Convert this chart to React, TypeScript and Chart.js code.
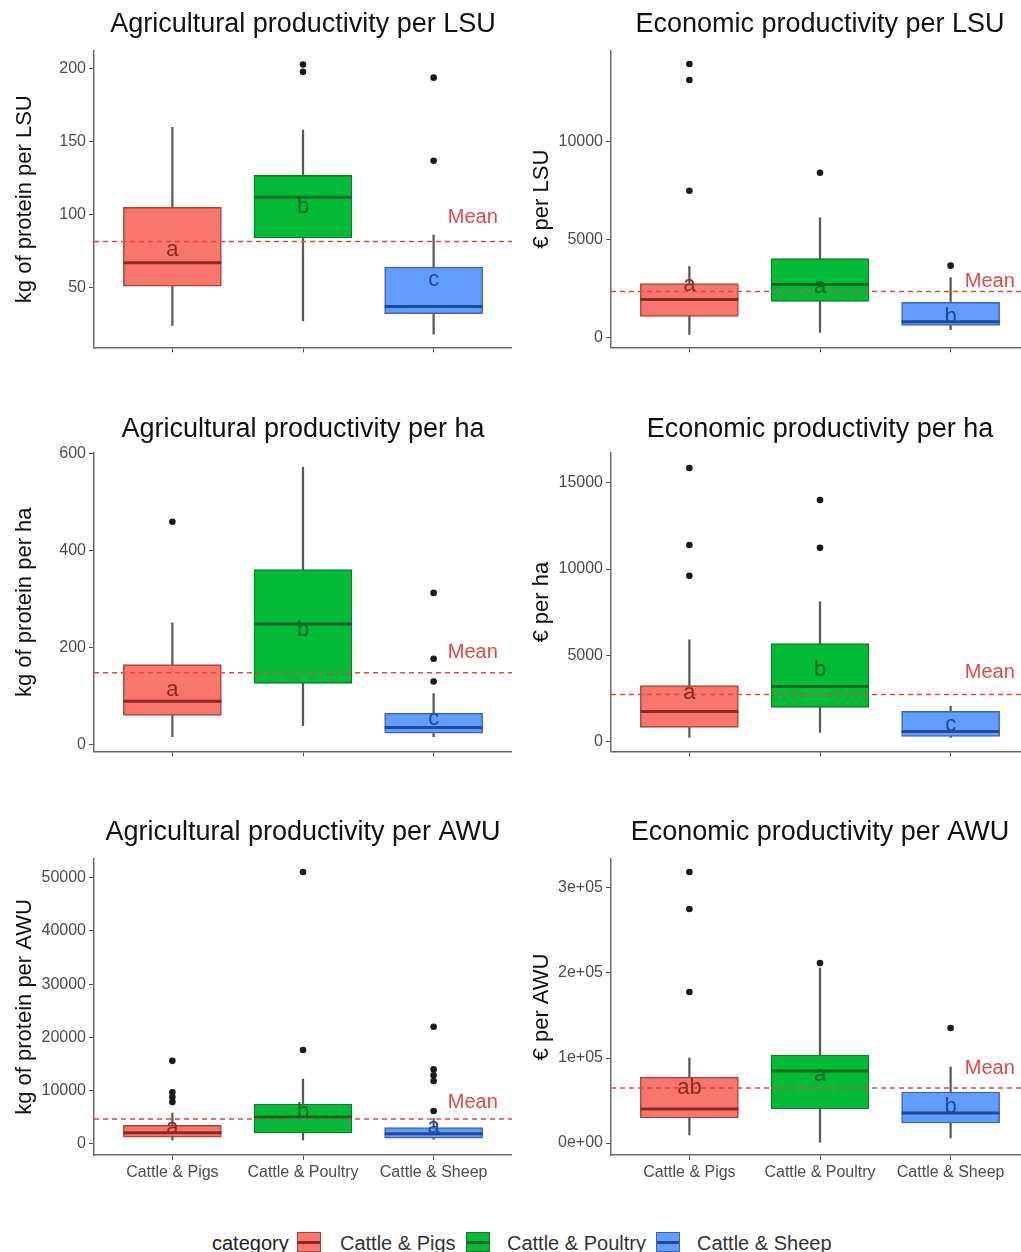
import React, { useEffect, useRef } from 'react';
import { Chart, registerables } from 'chart.js';

Chart.register(...registerables);
const FONT = "'Liberation Sans', Arial, Helvetica, sans-serif";
Chart.defaults.font.family = FONT;

// ---------------- data ----------------
const categories = ['Cattle & Pigs', 'Cattle & Poultry', 'Cattle & Sheep'];
const categoryX = [1, 2, 3];
const meanLabelText = 'Mean';
const meanLabelX = 3.3;

// Agricultural productivity per LSU
const aLsuLow = [24, 27, 18];
const aLsuQ1 = [51, 84, 32];
const aLsuMed = [67, 112, 37];
const aLsuQ3 = [105, 127, 64];
const aLsuHigh = [160, 158, 86];
const aLsuOut = [[], [198, 203], [137, 194]];
const aLsuLetters = ['a', 'b', 'c'];
const aLsuLetterY = [76, 105, 55];
const aLsuMean = 81.5;
const aLsuMeanLabelY = 98;
const aLsuTicks = [50, 100, 150, 200];
const aLsuTickLabels = ['50', '100', '150', '200'];
const aLsuRange = [8.9, 212.3];

// Economic productivity per LSU
const eLsuLow = [150, 250, 400];
const eLsuQ1 = [1070, 1840, 610];
const eLsuMed = [1940, 2700, 800];
const eLsuQ3 = [2750, 4030, 1790];
const eLsuHigh = [3620, 6120, 3060];
const eLsuOut = [[7500, 13160, 13980], [8420], [3670]];
const eLsuLetters = ['a', 'a', 'b'];
const eLsuLetterY = [2700, 2600, 1070];
const eLsuMean = 2350;
const eLsuMeanLabelY = 2860;
const eLsuTicks = [0, 5000, 10000];
const eLsuTickLabels = ['0', '5000', '10000'];
const eLsuRange = [-510, 14643];

// Agricultural productivity per ha
const aHaLow = [16, 39, 16];
const aHaQ1 = [60, 126, 23];
const aHaMed = [89, 249, 35];
const aHaQ3 = [165, 361, 64];
const aHaHigh = [251, 573, 105];
const aHaOut = [[460], [], [130, 177, 313]];
const aHaLetters = ['a', 'b', 'c'];
const aHaLetterY = [113, 237, 52];
const aHaMean = 148;
const aHaMeanLabelY = 190;
const aHaTicks = [0, 200, 400, 600];
const aHaTickLabels = ['0', '200', '400', '600'];
const aHaRange = [-14.4, 602];

// Economic productivity per ha
const eHaLow = [230, 520, 230];
const eHaQ1 = [810, 1970, 290];
const eHaMed = [1740, 3180, 580];
const eHaQ3 = [3240, 5670, 1740];
const eHaHigh = [5900, 8100, 2030];
const eHaOut = [[9610, 11400, 15860], [11230, 14010], []];
const eHaLetters = ['a', 'b', 'c'];
const eHaLetterY = [2840, 4170, 930];
const eHaMean = 2720;
const eHaMeanLabelY = 4000;
const eHaTicks = [0, 5000, 10000, 15000];
const eHaTickLabels = ['0', '5000', '10000', '15000'];
const eHaRange = [-579, 16734];

// Agricultural productivity per AWU
const aAwuLow = [700, 750, 900];
const aAwuQ1 = [1300, 2060, 1100];
const aAwuMed = [2100, 5070, 1900];
const aAwuQ3 = [3500, 7500, 3100];
const aAwuHigh = [5800, 12200, 4800];
const aAwuOut = [[7900, 8800, 9700, 15600], [17640, 51030], [6200, 11800, 12900, 14000, 22000]];
const aAwuLetters = ['a', 'b', 'a'];
const aAwuLetterY = [3000, 6000, 3200];
const aAwuMean = 4690;
const aAwuMeanLabelY = 7880;
const aAwuTicks = [0, 10000, 20000, 30000, 40000, 50000];
const aAwuTickLabels = ['0', '10000', '20000', '30000', '40000', '50000'];
const aAwuRange = [-2064, 53470];

// Economic productivity per AWU
const eAwuLow = [9400, 1000, 5900];
const eAwuQ1 = [29400, 40000, 23500];
const eAwuMed = [40000, 84700, 35300];
const eAwuQ3 = [77600, 103500, 60000];
const eAwuHigh = [100000, 205900, 89400];
const eAwuOut = [[177600, 275300, 318800], [211800], [135300]];
const eAwuLetters = ['ab', 'a', 'b'];
const eAwuLetterY = [64700, 80000, 42400];
const eAwuMean = 64700;
const eAwuMeanLabelY = 88200;
const eAwuTicks = [0, 100000, 200000, 300000];
const eAwuTickLabels = ['0e+00', '1e+05', '2e+05', '3e+05'];
const eAwuRange = [-14100, 334100];

// ---------------- styles ----------------
const catFill = ['#F8766D', '#00BA38', '#619CFF'];
const catEdge = ['#A2463F', '#137A30', '#3F67B0'];
const catDark = ['#8E2A22', '#0A6B23', '#1F4A9E'];
const whiskerColor = '#5a5a5a';
const meanColor = '#E4474C';
const axisColor = '#6a6a6a';
const tickTextColor = '#4d4d4d';

const panels = [
  { title: 'Agricultural productivity per LSU', yTitle: 'kg of protein per LSU', low: aLsuLow, q1: aLsuQ1, med: aLsuMed, q3: aLsuQ3, high: aLsuHigh, out: aLsuOut, letters: aLsuLetters, letterY: aLsuLetterY, mean: aLsuMean, meanLabelY: aLsuMeanLabelY, ticks: aLsuTicks, tickLabels: aLsuTickLabels, range: aLsuRange },
  { title: 'Economic productivity per LSU', yTitle: '€ per LSU', low: eLsuLow, q1: eLsuQ1, med: eLsuMed, q3: eLsuQ3, high: eLsuHigh, out: eLsuOut, letters: eLsuLetters, letterY: eLsuLetterY, mean: eLsuMean, meanLabelY: eLsuMeanLabelY, ticks: eLsuTicks, tickLabels: eLsuTickLabels, range: eLsuRange },
  { title: 'Agricultural productivity per ha', yTitle: 'kg of protein per ha', low: aHaLow, q1: aHaQ1, med: aHaMed, q3: aHaQ3, high: aHaHigh, out: aHaOut, letters: aHaLetters, letterY: aHaLetterY, mean: aHaMean, meanLabelY: aHaMeanLabelY, ticks: aHaTicks, tickLabels: aHaTickLabels, range: aHaRange },
  { title: 'Economic productivity per ha', yTitle: '€ per ha', low: eHaLow, q1: eHaQ1, med: eHaMed, q3: eHaQ3, high: eHaHigh, out: eHaOut, letters: eHaLetters, letterY: eHaLetterY, mean: eHaMean, meanLabelY: eHaMeanLabelY, ticks: eHaTicks, tickLabels: eHaTickLabels, range: eHaRange },
  { title: 'Agricultural productivity per AWU', yTitle: 'kg of protein per AWU', low: aAwuLow, q1: aAwuQ1, med: aAwuMed, q3: aAwuQ3, high: aAwuHigh, out: aAwuOut, letters: aAwuLetters, letterY: aAwuLetterY, mean: aAwuMean, meanLabelY: aAwuMeanLabelY, ticks: aAwuTicks, tickLabels: aAwuTickLabels, range: aAwuRange },
  { title: 'Economic productivity per AWU', yTitle: '€ per AWU', low: eAwuLow, q1: eAwuQ1, med: eAwuMed, q3: eAwuQ3, high: eAwuHigh, out: eAwuOut, letters: eAwuLetters, letterY: eAwuLetterY, mean: eAwuMean, meanLabelY: eAwuMeanLabelY, ticks: eAwuTicks, tickLabels: eAwuTickLabels, range: eAwuRange },
];

// ---------------- layout ----------------
const CANVAS_W = 512;
const colLeft = [0, 517];
const rowTop = [0, 402, 808];
const rowHeight = [360, 362, 382];
const TITLE_SIZE = 27;
const rowTitlePad = [[8.8, 9.8], [11.8, 6.8], [8.8, 9.8]];
const rowXAxisH = [12, 12, 35];
const yAxisW = 94;
const X_MIN = 0.4;
const X_MAX = 3.6;

function makeConfig(p: any, row: number): any {
  const boxData = categoryX.map((x, i) => ({ x, y: [p.q1[i], p.q3[i]] }));
  const whiskerData = categoryX.map((x, i) => ({ x, y: [p.low[i], p.high[i]] }));
  const medData = categoryX.map((x, i) => ({ x, y: p.med[i] }));
  const outData = p.out.flatMap((arr: number[], i: number) => arr.map((v) => ({ x: categoryX[i], y: v })));
  const meanData = [{ x: X_MIN, y: p.mean }, { x: X_MAX, y: p.mean }];

  const annot = {
    id: 'boxAnnot',
    afterDatasetsDraw(chart: any) {
      const { ctx } = chart;
      const xs = chart.scales.x;
      const ys = chart.scales.y;
      ctx.save();
      ctx.textAlign = 'center';
      ctx.textBaseline = 'middle';
      ctx.font = `22px ${FONT}`;
      p.letters.forEach((t: string, i: number) => {
        ctx.fillStyle = catDark[i];
        ctx.fillText(t, xs.getPixelForValue(categoryX[i]), ys.getPixelForValue(p.letterY[i]));
      });
      ctx.font = `20px ${FONT}`;
      ctx.fillStyle = meanColor;
      ctx.fillText(meanLabelText, xs.getPixelForValue(meanLabelX), ys.getPixelForValue(p.meanLabelY));
      ctx.restore();
    },
  };

  return {
    type: 'bar',
    data: {
      datasets: [
        { type: 'scatter', data: outData, pointRadius: 3.3, pointBackgroundColor: '#1a1a1a', pointBorderWidth: 0, order: 1 },
        { type: 'line', data: meanData, borderColor: meanColor, borderWidth: 1.5, borderDash: [5, 4], pointRadius: 0, fill: false, order: 2 },
        { type: 'scatter', data: medData, pointStyle: 'line', pointRadius: 49, pointBorderWidth: 3, pointBorderColor: catDark, order: 3 },
        { type: 'bar', data: boxData, backgroundColor: catFill, borderColor: catEdge, borderWidth: 1.5, borderSkipped: false, grouped: false, barThickness: 98, maxBarThickness: 98, order: 4 },
        { type: 'bar', data: whiskerData, backgroundColor: whiskerColor, borderWidth: 0, grouped: false, barThickness: 1.6, maxBarThickness: 1.6, order: 5 },
      ],
    },
    plugins: [annot],
    options: {
      responsive: false,
      animation: false,
      events: [],
      layout: { padding: 0, autoPadding: false },
      plugins: {
        legend: { display: false },
        tooltip: { enabled: false },
        title: {
          display: true,
          text: p.title,
          fullSize: false,
          color: '#111',
          font: { size: TITLE_SIZE, weight: 'normal' },
          padding: { top: rowTitlePad[row][0], bottom: rowTitlePad[row][1] },
        },
      },
      scales: {
        x: {
          type: 'linear',
          min: X_MIN,
          max: X_MAX,
          offset: false,
          afterBuildTicks: (s: any) => { s.ticks = categoryX.map((v) => ({ value: v })); },
          afterFit: (s: any) => { s.height = rowXAxisH[row]; },
          ticks: {
            callback: (_v: any, i: number) => (row === 2 ? categories[i] : ''),
            font: { size: 16 },
            color: tickTextColor,
            padding: 3,
            maxRotation: 0,
            autoSkip: false,
          },
          grid: { drawOnChartArea: false, drawTicks: true, tickLength: 5, color: '#555', offset: false },
          border: { display: true, color: axisColor, width: 1.5 },
        },
        y: {
          type: 'linear',
          min: p.range[0],
          max: p.range[1],
          afterBuildTicks: (s: any) => { s.ticks = p.ticks.map((v: number) => ({ value: v })); },
          afterFit: (s: any) => { s.width = yAxisW; },
          ticks: {
            callback: (_v: any, i: number) => p.tickLabels[i],
            font: { size: 16 },
            color: tickTextColor,
            padding: 3,
          },
          grid: { drawOnChartArea: false, drawTicks: true, tickLength: 5, color: '#555' },
          border: { display: true, color: axisColor, width: 1.5 },
          title: { display: true, text: p.yTitle, color: '#111', font: { size: 22 }, padding: { top: 12, bottom: 0 } },
        },
      },
    },
  };
}

function PanelChart({ p, row, col }: { p: any; row: number; col: number }) {
  const ref = useRef<HTMLCanvasElement>(null);
  useEffect(() => {
    const chart = new Chart(ref.current as HTMLCanvasElement, makeConfig(p, row));
    return () => chart.destroy();
  }, [p, row]);
  return (
    <canvas
      ref={ref}
      width={CANVAS_W}
      height={rowHeight[row]}
      style={{ position: 'absolute', left: colLeft[col], top: rowTop[row] }}
    />
  );
}

const legendTitle = 'category';
const legendTitleX = 212;
const legendSwatchX = [297, 466, 656];
const legendLabelX = [340, 507, 697];
const legendTop = 1232;

export default function App() {
  return (
    <div
      style={{
        position: 'absolute', left: 0, top: 0, width: 1021, height: 1252,
        overflow: 'hidden', background: '#fff', fontFamily: FONT,
      }}
    >
      {panels.map((p, i) => (
        <PanelChart key={i} p={p} row={Math.floor(i / 2)} col={i % 2} />
      ))}
      <span style={{ position: 'absolute', left: legendTitleX, top: legendTop, fontSize: 20, lineHeight: '22px', color: '#222' }}>
        {legendTitle}
      </span>
      {categories.map((c, i) => (
        <React.Fragment key={c}>
          <div
            style={{
              position: 'absolute', left: legendSwatchX[i], top: legendTop, width: 24, height: 20,
              boxSizing: 'border-box', background: catFill[i], border: `1.5px solid ${catEdge[i]}`,
            }}
          >
            <div style={{ position: 'absolute', left: 0, right: 0, top: 8, height: 2.5, background: catDark[i] }} />
          </div>
          <span style={{ position: 'absolute', left: legendLabelX[i], top: legendTop, fontSize: 20, lineHeight: '22px', color: '#333', whiteSpace: 'nowrap' }}>
            {c}
          </span>
        </React.Fragment>
      ))}
    </div>
  );
}
